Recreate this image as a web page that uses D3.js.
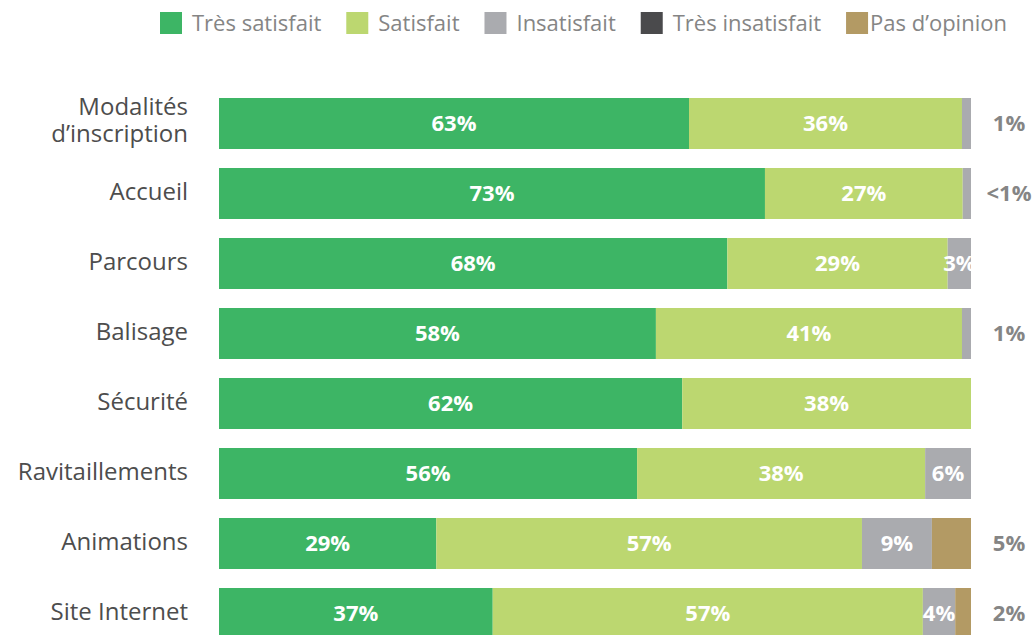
<!DOCTYPE html>
<html>
<head>
<meta charset="utf-8">
<script src="https://cdn.jsdelivr.net/npm/d3@7"></script>
<style>
  body { margin: 0; background: #fff; }
  text { font-family: "Open Sans", sans-serif; }
</style>
</head>
<body>
<script>
// data
const categories = ["Modalités\nd’inscription", "Accueil", "Parcours", "Balisage", "Sécurité", "Ravitaillements", "Animations", "Site Internet"]
const series = ["Très satisfait", "Satisfait", "Insatisfait", "Très insatisfait", "Pas d’opinion"]
const colors = ["#3db565", "#bcd770", "#aaabaf", "#4a4a4c", "#b39a64"]

const tresSatisfait   = [62.5, 72.6, 67.6, 58.1, 61.6, 55.6, 28.9, 36.4]
const satisfait       = [36.3, 26.3, 29.3, 40.7, 38.4, 38.3, 56.6, 57.2]
const insatisfait     = [1.2, 1.1, 3.1, 1.2, 0, 6.1, 9.3, 4.3]
const tresInsatisfait = [0, 0, 0, 0, 0, 0, 0, 0]
const pasOpinion      = [0, 0, 0, 0, 0, 0, 5.2, 2.1]

const labTresSatisfait   = ["63%", "73%", "68%", "58%", "62%", "56%", "29%", "37%"]
const labSatisfait       = ["36%", "27%", "29%", "41%", "38%", "38%", "57%", "57%"]
const labInsatisfait     = ["1%", "<1%", "3%", "1%", "", "6%", "9%", "4%"]
const labTresInsatisfait = ["", "", "", "", "", "", "", ""]
const labPasOpinion      = ["", "", "", "", "", "", "5%", "2%"]

const values = [tresSatisfait, satisfait, insatisfait, tresInsatisfait, pasOpinion]
const labels = [labTresSatisfait, labSatisfait, labInsatisfait, labTresInsatisfait, labPasOpinion]

const width = 1032, height = 635

const svg = d3.select("body").append("svg")
    .attr("width", width)
    .attr("height", height)

const x = d3.scaleLinear().domain([0, 100]).range([219, 971])
const y = d3.scaleBand().domain(categories)
    .range([98, 98 + 7 * 70 + 51])
    .paddingInner(19 / 70)
    .paddingOuter(0)

// build segments
const segs = []
categories.forEach((c, i) => {
    let acc = 0
    series.forEach((s, j) => {
        const v = values[j][i]
        if (v > 0) segs.push({cat: c, j: j, x0: acc, x1: acc + v, label: labels[j][i], v: v})
        acc += v
    })
})

svg.append("g").selectAll("rect")
    .data(segs)
    .enter()
    .append("rect")
    .attr("x", d => x(d.x0))
    .attr("y", d => y(d.cat))
    .attr("width", d => x(d.x1) - x(d.x0))
    .attr("height", y.bandwidth())
    .attr("fill", d => colors[d.j])

// small values and "pas d'opinion" go outside on the right
const isOutside = d => d.j == 4 || d.v < 2.5

svg.append("g").selectAll("text")
    .data(segs.filter(d => d.label))
    .enter()
    .append("text")
    .attr("x", d => isOutside(d) ? x(100) + 38 : (x(d.x0) + x(d.x1)) / 2)
    .attr("y", d => y(d.cat) + y.bandwidth() / 2)
    .attr("dy", "0.35em")
    .attr("text-anchor", "middle")
    .attr("font-size", 22)
    .attr("font-weight", "bold")
    .attr("fill", d => isOutside(d) ? "#858585" : "#fff")
    .text(d => d.label)

// category labels
const catG = svg.append("g").selectAll("text")
    .data(categories)
    .enter()
    .append("text")
    .attr("text-anchor", "end")
    .attr("font-size", 24)
    .attr("fill", "#4d4d4d")
    .attr("y", d => y(d) + y.bandwidth() / 2)

catG.each(function(d) {
    const lines = d.split("\n")
    const t = d3.select(this)
    lines.forEach((l, k) => {
        t.append("tspan")
            .attr("x", 188)
            .attr("dy", k == 0 ? (0.25 - (lines.length - 1) * 0.62) + "em" : "1.14em")
            .text(l)
    })
})

// legend
const leg = svg.append("g")
let lx = 160
series.forEach((s, j) => {
    leg.append("rect")
        .attr("x", lx).attr("y", 12)
        .attr("width", 22).attr("height", 22)
        .attr("fill", colors[j])
    const t = leg.append("text")
        .attr("x", lx + (j == 4 ? 24 : 32)).attr("y", 31)
        .attr("font-size", 22)
        .attr("fill", "#858585")
        .text(s)
    lx += 32 + t.node().getComputedTextLength() + 25
})
</script>
</body>
</html>
